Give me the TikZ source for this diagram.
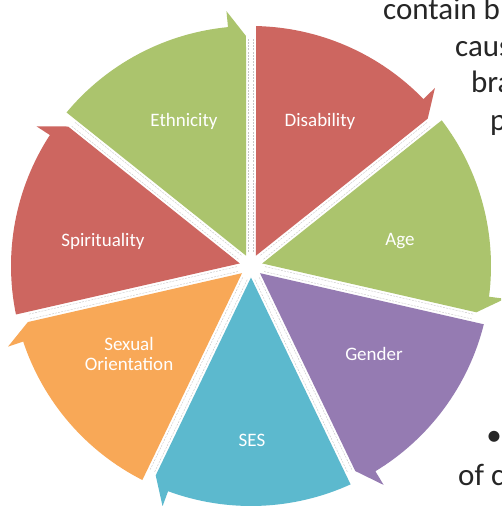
\documentclass[tikz,border=0pt]{standalone}
\usepackage{fontspec}
\setmainfont{Carlito}
\usetikzlibrary{calc}
\definecolor{wred}{HTML}{CD6660}
\definecolor{wgreen}{HTML}{ABC46D}
\definecolor{wpurple}{HTML}{957BB2}
\definecolor{wcyan}{HTML}{5CB9CE}
\definecolor{worange}{HTML}{F8A857}
\definecolor{bgtxt}{HTML}{262626}
\begin{document}
\begin{tikzpicture}[x=1pt,y=1pt,
  lbl/.style={text=white,font=\fontsize{19}{20}\selectfont,align=center,inner sep=0pt},
  bgtext/.style={text=bgtxt,font=\fontsize{31}{37}\selectfont,anchor=base west,inner sep=0pt},
  gapline/.style={draw=black!22,line width=0.4pt,dash pattern=on 2pt off 1.2pt}]
\useasboundingbox (-251,-240) rectangle (250,266);
\clip (-251,-240) rectangle (250,266);
\fill[white] (-251,-240) rectangle (250,266);
% wedges (clockwise arrows)
\foreach \t/\c in {90/wgreen, 38.5714/wred, -12.8571/wgreen, -64.2857/wpurple, -115.7143/wcyan, -167.1429/worange, 141.4286/wred}{
  \pgfmathsetmacro\ta{\t+51.4286-1.2}
  \pgfmathsetmacro\tb{\t+5.5}
  \pgfmathsetmacro\tm{\t+25.714}
  \fill[\c] (\tm:11.5) -- ($(\t:230)+(\t+90:5)$) -- (\tb:256) -- (\tb:240)
     arc[start angle=\tb, end angle=\ta, radius=240] -- cycle;
}
% faint lines in the gaps
\foreach \t in {90, 38.5714, -12.8571, -64.2857, -115.7143, -167.1429, 141.4286}{
  \draw[gapline] ($(\t:14)+(\t+90:2.5)$) -- ($(\t:228)+(\t+90:2.5)$);
  \draw[gapline] ($(\t:14)+(\t-90:2.5)$) -- ($(\t:228)+(\t-90:2.5)$);
}
% labels
\node[lbl] (eth) at (-67,145) {Ethnicity};
\node[lbl] (dis) at (69,145) {Disability};
\node[lbl] (spi) at (-148,25) {Spirituality};
\node[lbl] (age) at (149,25) {Age};
\node[lbl] (sex) at (-122,-88) {Sexual\\Orientation};
\node[lbl] (gen) at (123,-88) {Gender};
\node[lbl] (ses) at (1,-174) {SES};
% background text fragments
\node[bgtext] (t1) at (132,246) {contain b};
\node[bgtext] (t2) at (204,209) {caus};
\node[bgtext] (t3) at (220,173) {bra};
\node[bgtext] (t4) at (239,135) {p};
\node[bgtext,anchor=center] (t5) at (243,-172) {•};
\node[bgtext] (t6) at (207,-219) {of c};
\end{tikzpicture}
\end{document}
